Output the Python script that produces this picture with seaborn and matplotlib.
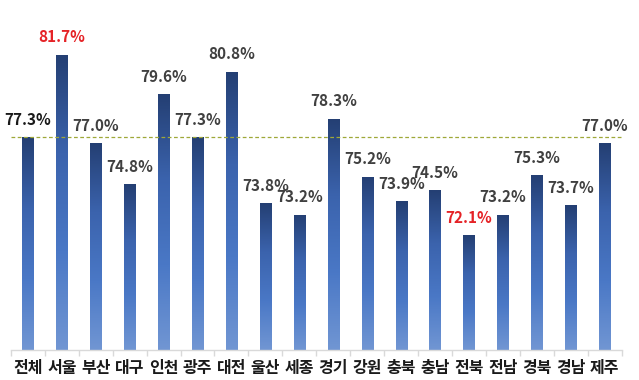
import numpy as np
import pandas as pd
import matplotlib
matplotlib.use("Agg")
import matplotlib.pyplot as plt
from matplotlib.colors import LinearSegmentedColormap
import seaborn as sns

regions = ['전체', '서울', '부산', '대구', '인천', '광주', '대전', '울산', '세종',
           '경기', '강원', '충북', '충남', '전북', '전남', '경북', '경남', '제주']
rates = [77.3, 81.7, 77.0, 74.8, 79.6, 77.3, 80.8, 73.8, 73.2,
         78.3, 75.2, 73.9, 74.5, 72.1, 73.2, 75.3, 73.7, 77.0]
highlight = ['서울', '전북']
reference_value = 77.3

df = pd.DataFrame({'region': regions, 'rate': rates})

sns.set_theme(style="white")
plt.rcParams['font.family'] = ['Noto Sans CJK KR', 'DejaVu Sans']

fig = plt.figure(figsize=(6.39, 3.8), dpi=100)
ax = fig.add_axes([0.017, 0.079, 0.956, 0.921])

sns.barplot(data=df, x='region', y='rate', color='#4472c4', width=0.33, ax=ax, zorder=2)

ymin, ymax = 66.0, 84.6
ax.set_ylim(ymin, ymax)
ax.set_xlim(-0.5, len(regions) - 0.5)

# gradient fill: dark navy at the top, lighter blue at the bottom
cmap = LinearSegmentedColormap.from_list('bar_grad', ['#7196d3', '#4a78c6', '#3b63ad', '#243f73'])
grad = np.linspace(0, 1, 256).reshape(-1, 1)
for patch in ax.patches:
    x0, w = patch.get_x(), patch.get_width()
    h = patch.get_height()
    patch.set_facecolor('none')
    patch.set_edgecolor('none')
    im = ax.imshow(grad, cmap=cmap, aspect='auto', origin='lower',
                   extent=[x0, x0 + w, ymin, h], zorder=2)
    im.set_clip_path(patch)

# average reference line
ax.axhline(reference_value, color='#9fa838', linestyle=(0, (3, 2)), linewidth=0.9, zorder=3)

# value labels
for i, (r, v) in enumerate(zip(regions, rates)):
    if r in highlight:
        c = '#e52226'
    elif i == 0:
        c = '#1a1a1a'
    else:
        c = '#404040'
    ax.text(i, v + 0.5, f'{v:.1f}%', ha='center', va='bottom',
            fontsize=11, fontweight='bold', color=c, zorder=4)

ax.set_xlabel('')
ax.set_ylabel('')
ax.set_yticks([])
for s in ['top', 'right', 'left']:
    ax.spines[s].set_visible(False)
ax.spines['bottom'].set_color('#d9d9d9')
ax.spines['bottom'].set_linewidth(1.0)

ax.set_xticks(np.arange(len(regions)))
ax.set_xticklabels(regions, fontsize=11.5, fontweight='bold', color='#1a1a1a')
ax.tick_params(axis='x', length=0, pad=7)
ax.set_xticks(np.arange(len(regions) + 1) - 0.5, minor=True)
ax.tick_params(axis='x', which='minor', length=4, color='#d9d9d9', bottom=True)

fig.savefig('out.png', dpi=100)
